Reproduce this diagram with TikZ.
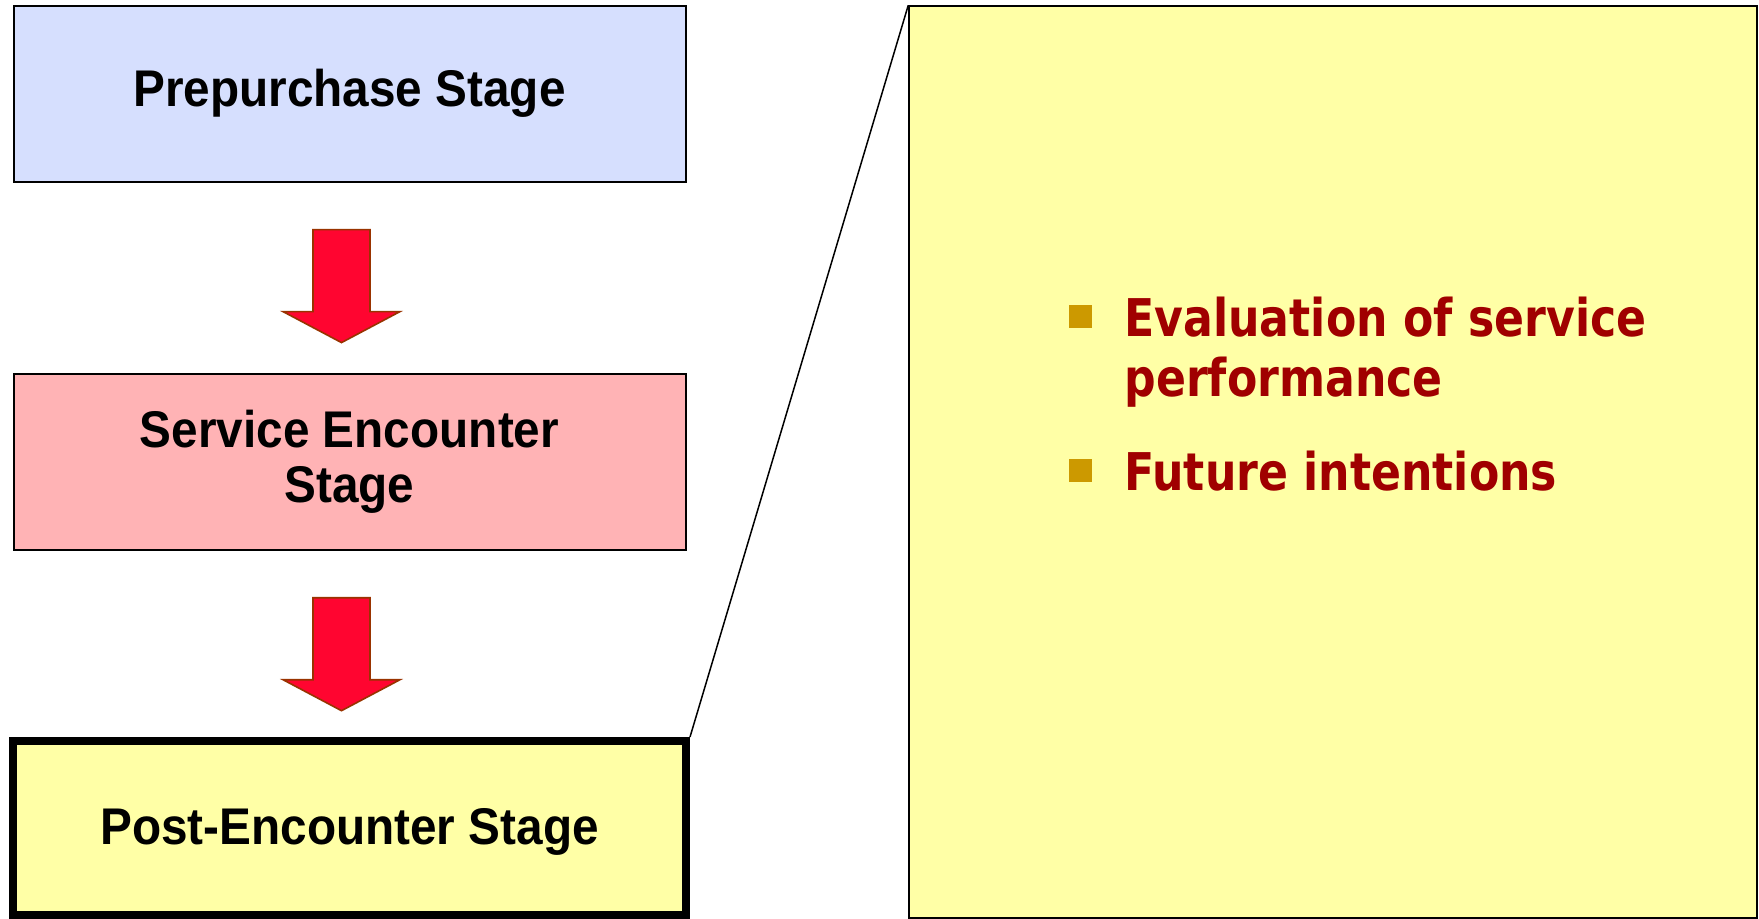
\documentclass[tikz,border=0pt]{standalone}
\usepackage{fontspec}
\usetikzlibrary{calc}
\newfontfamily\stagefont[FakeStretch=0.925]{Liberation Sans}
\newfontfamily\pointfont[FakeStretch=0.85]{DejaVu Sans}

\definecolor{preblue}{HTML}{D6DFFE}
\definecolor{servicepink}{HTML}{FFB3B5}
\definecolor{postyellow}{HTML}{FFFFA6}
\definecolor{pointred}{HTML}{A00000}
\definecolor{bulletgold}{HTML}{CC9900}
\definecolor{arrowred}{HTML}{FF0530}
\definecolor{arrowedge}{HTML}{993300}

\tikzset{
  stagebox/.style={draw=black, line width=1pt, rectangle, inner sep=0pt,
    minimum width=336pt, minimum height=88pt, align=center,
    font=\stagefont\bfseries\fontsize{25.8pt}{27.5pt}\selectfont},
  detailbox/.style={draw=black, line width=0.75pt, rectangle, inner sep=0pt,
    fill=postyellow, minimum width=424pt, minimum height=456pt},
  bulletsq/.style={rectangle, fill=bulletgold, inner sep=0pt,
    minimum width=11.5pt, minimum height=11.5pt},
  pointtext/.style={anchor=base west, inner sep=0pt, text=pointred,
    font=\pointfont\bfseries\fontsize{26pt}{29.5pt}\selectfont},
  arrowbody/.style={fill=arrowred, draw=arrowedge, line width=0.8pt, line join=miter},
  pics/downarrow/.style={code={
    \draw[arrowbody] (-28.5,0) -- (28.5,0) -- (28.5,82) -- (58.5,82)
      -- (0,113) -- (-58.5,82) -- (-28.5,82) -- cycle;
  }}
}

\begin{document}
\begin{tikzpicture}[x=0.5pt,y=-0.5pt]
  \useasboundingbox (0,0) rectangle (1759,919);

  % the three stages
  \node[stagebox, fill=preblue] (pre) at (349.5,93.6) {Prepurchase Stage};
  \node[stagebox, fill=servicepink] (service) at (349.5,461.7) {Service Encounter\\Stage};
  \node[stagebox, fill=postyellow, line width=4pt, minimum width=336.5pt, minimum height=87pt,
    text height=22pt] (post) at (349.5,828) {Post-Encounter Stage};

  % block arrows between the stages
  \pic at ($(pre.south)+(-8,47)$) {downarrow};
  \pic at ($(service.south)+(-8,47)$) {downarrow};

  % detail panel for the post-encounter stage
  \node[detailbox] (detail) at (1333,462) {};
  \draw[line width=0.75pt] (post.north east) -- (detail.north west);

  \node[bulletsq] (b1) at (1080.5,316.5) {};
  \node[pointtext] (p1) at (1124,336.6) {Evaluation of service};
  \node[pointtext] (p1b) at (1124,396) {performance};
  \node[bulletsq] (b2) at (1080.5,470) {};
  \node[pointtext] (p2) at (1124,490) {Future intentions};
\end{tikzpicture}
\end{document}
